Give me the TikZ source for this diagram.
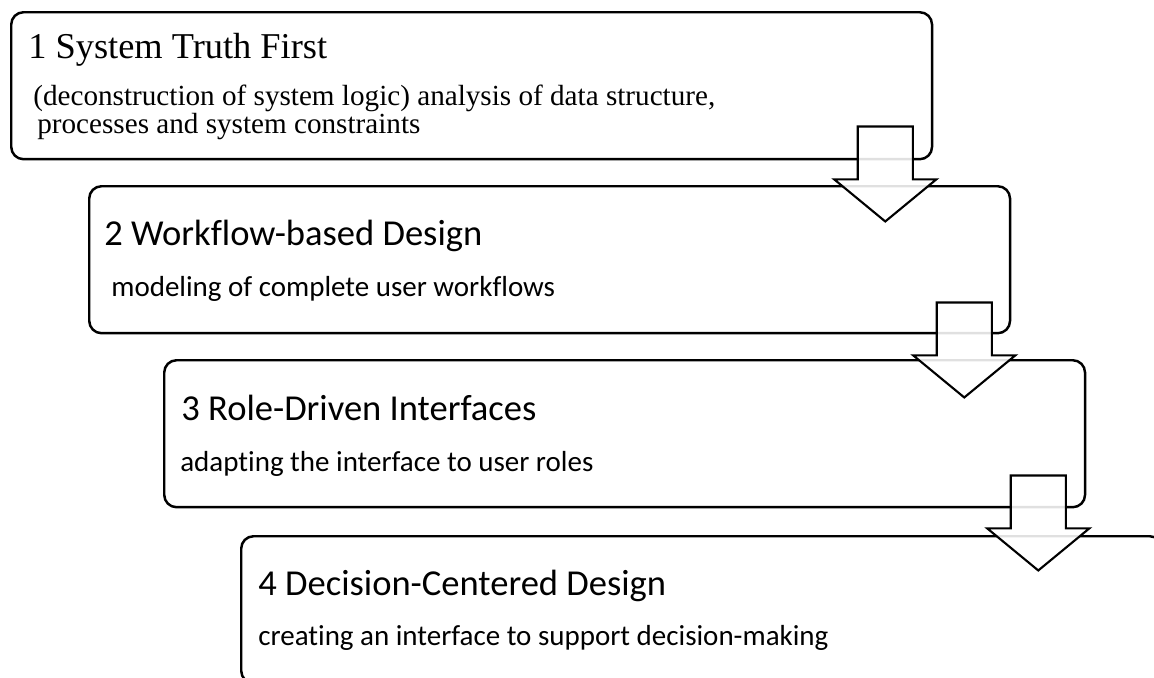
\documentclass[tikz,border=0pt]{standalone}
\usepackage{fontspec}
\setmainfont{Liberation Serif}
\newfontfamily\calibri[Ligatures=NoCommon]{Carlito}
\usetikzlibrary{shapes.arrows, positioning, calc}
\definecolor{trait}{HTML}{000000}
\tikzset{
  etape/.style={rectangle, rounded corners=7pt, draw=trait, line width=1.4pt,
    fill=white, minimum width=18.42cm, minimum height=2.94cm,
    anchor=north west, inner sep=0pt},
  titre/.style={anchor=base west, inner sep=0pt,
    font=\calibri\fontsize{20.8}{24}\selectfont},
  detail/.style={anchor=base west, inner sep=0pt,
    font=\calibri\fontsize{16.5}{20}\selectfont},
  titreserif/.style={anchor=base west, inner sep=0pt,
    font=\fontsize{20.7}{24}\selectfont},
  detailserif/.style={anchor=base west, inner sep=0pt, align=left,
    font=\fontsize{16.6}{15.5}\selectfont},
  flechebloc/.style={single arrow, draw=trait, line width=1.2pt, fill=white,
    fill opacity=0.88, draw opacity=1, rotate=-90, anchor=tail,
    minimum width=1.9cm, minimum height=1.9cm, inner xsep=0pt,
    inner ysep=0.53cm, single arrow head extend=0.47cm,
    single arrow tip angle=101}
}

\begin{document}
\begin{tikzpicture}[x=0.02cm, y=-0.02cm]
  \path[use as bounding box, clip] (0,0) rectangle (1154,677);

  % the four steps, each shifted down and to the right
  \node[etape] (b1) at (10,11) {};
  \node[etape] (b2) at (88,185) {};
  \node[etape] (b3) at (163,359) {};
  \node[etape] (b4) at (240,535) {};

  \node[titreserif] (t1) at ([shift={(18,47)}]b1.north west) {1 System Truth First};
  % base of a two-line node sits on its last line
  \node[detailserif] (d1) at ([shift={(23,122)}]b1.north west)
    {(deconstruction of system logic) analysis of data structure,\\
     \hspace{0.08cm}processes and system constraints};

  \node[titre] (t2) at ([shift={(16,60)}]b2.north west) {2 Workflow-based Design};
  \node[detail] (d2) at ([shift={(23,111)}]b2.north west) {modeling of complete user workflows};

  \node[titre] (t3) at ([shift={(18,61)}]b3.north west) {3 Role-Driven Interfaces};
  \node[detail] (d3) at ([shift={(17,112)}]b3.north west) {adapting the interface to user roles};

  \node[titre] (t4) at ([shift={(18,60)}]b4.north west) {4 Decision-Centered Design};
  \node[detail] (d4) at ([shift={(18,110)}]b4.north west) {creating an interface to support decision-making};

  % block arrows between the steps
  \node[flechebloc] (f1) at ($(b1.south east)+(-48,-35)$) {};
  \node[flechebloc] (f2) at ($(b2.south east)+(-47,-33)$) {};
  \node[flechebloc] (f3) at ($(b3.south east)+(-48,-34)$) {};
\end{tikzpicture}
\end{document}
